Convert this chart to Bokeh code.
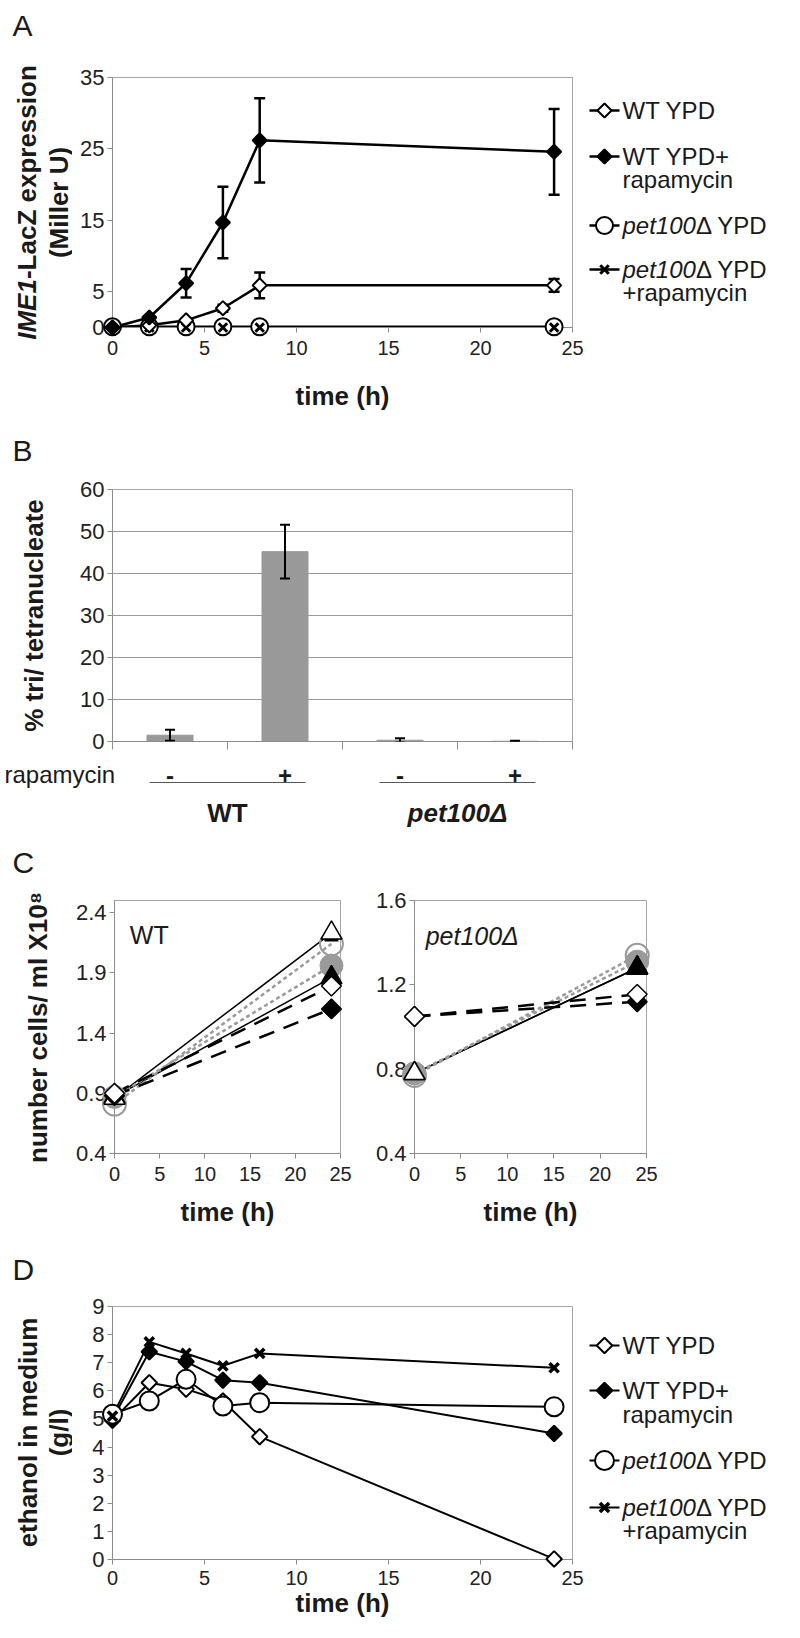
import numpy as np
from bokeh.plotting import figure
from bokeh.models import Range1d, FixedTicker, Whisker, TeeHead, ColumnDataSource
from bokeh.layouts import row, column
from bokeh.core.properties import value
from bokeh.embed import file_html
from bokeh.resources import INLINE

FONT = "Liberation Sans"
INK = "#1a1a1a"
AXIS_GRAY = "#8c8c8c"
FRAME_GRAY = "#a6a6a6"

# ---------------- data ----------------
# Panel A : IME1-LacZ expression (Miller U)
a_time = [0, 2, 4, 6, 8, 24]
a_wt_ypd = [0.0, 0.3, 1.0, 2.7, 5.9, 5.9]
a_wt_ypd_err = [0.0, 0.0, 0.3, 0.5, 1.8, 0.9]
a_wt_rap = [0.0, 1.4, 6.2, 14.7, 26.2, 24.6]
a_wt_rap_err = [0.0, 0.0, 2.0, 5.0, 5.9, 6.0]
a_pet_ypd = [0.1, 0.1, 0.1, 0.1, 0.1, 0.1]
a_pet_rap = [0.0, 0.0, 0.0, 0.0, 0.0, 0.0]
a_xticks = [0, 5, 10, 15, 20, 25]
a_yticks = [0, 5, 15, 25, 35]

# Panel B : % tri/ tetranucleate
b_rapamycin = ["-", "+", "-", "+"]
b_strains = ["WT", "pet100Δ"]
b_values = [1.5, 45.2, 0.3, 0.05]
b_err = [1.3, 6.4, 0.5, 0.1]
b_yticks = [0, 10, 20, 30, 40, 50, 60]

# Panel C : number cells / ml x10^8
c_time = [0, 24]
c_wt_open_tri = [0.86, 2.23]
c_wt_fill_tri = [0.87, 1.86]
c_wt_dash = [2.17]
c_wt_open_circ = [0.81, 2.14]
c_wt_fill_circ = [0.87, 1.96]
c_wt_open_dia = [0.90, 1.79]
c_wt_fill_dia = [0.88, 1.60]
c_pet_open_tri = [0.78, 1.28]
c_pet_fill_tri = [0.78, 1.28]
c_pet_open_circ = [0.77, 1.34]
c_pet_fill_circ = [0.78, 1.31]
c_pet_open_dia = [1.05, 1.155]
c_pet_fill_dia = [1.05, 1.12]
c_xticks = [0, 5, 10, 15, 20, 25]
c_wt_yticks = [0.4, 0.9, 1.4, 1.9, 2.4]
c_pet_yticks = [0.4, 0.8, 1.2, 1.6]

# Panel D : ethanol in medium (g/l)
d_time = [0, 2, 4, 6, 8, 24]
d_wt_ypd = [4.95, 6.29, 6.06, 5.64, 4.37, 0.02]
d_wt_rap = [5.0, 7.39, 7.04, 6.38, 6.29, 4.48]
d_pet_ypd = [5.17, 5.64, 6.41, 5.46, 5.58, 5.43]
d_pet_rap = [5.1, 7.74, 7.33, 6.89, 7.33, 6.82]
d_xticks = [0, 5, 10, 15, 20, 25]
d_yticks = [0, 1, 2, 3, 4, 5, 6, 7, 8, 9]

x_title = "time (h)"
legend_labels = [
    [[("WT YPD", "normal")]],
    [[("WT YPD+", "normal")], [("rapamycin", "normal")]],
    [[("pet100", "italic"), ("\u0394 YPD", "normal")]],
    [[("pet100", "italic"), ("\u0394 YPD", "normal")], [("+rapamycin", "normal")]],
]

# ---------------- helpers ----------------
REG_W = {'p': .556, 'e': .556, 't': .278, '1': .556, '0': .556}
BOLD_W = {'I': .278, 'M': .833, 'E': .667, '1': .556, '-': .333, 'L': .611, 'a': .556,
          'c': .556, 'Z': .611, ' ': .278, 'x': .556, 'p': .611, 'r': .389, 's': .556,
          'i': .278, 'o': .611, 'n': .611, 'e': .556}


def tw(s, table, size):
    return sum(table.get(c, 0.556) for c in s) * size


def data_fig(w, h, l, r, t, b, xr, yr, xticks, yticks, xlabel=None, xlabel_standoff=0, xtick_standoff=8):
    p = figure(width=w, height=h, x_range=Range1d(*xr), y_range=Range1d(*yr),
               toolbar_location=None, output_backend="svg",
               min_border_left=l, min_border_right=r, min_border_top=t, min_border_bottom=b)
    p.grid.visible = False
    p.outline_line_color = FRAME_GRAY
    p.outline_line_width = 1
    p.background_fill_color = "white"
    p.border_fill_color = "white"
    p.xaxis.ticker = FixedTicker(ticks=xticks)
    p.yaxis.ticker = FixedTicker(ticks=yticks)
    for ax in p.axis:
        ax.axis_line_color = AXIS_GRAY
        ax.major_tick_line_color = AXIS_GRAY
        ax.minor_tick_line_color = None
        ax.major_tick_out = 5
        ax.major_tick_in = 0
        ax.major_label_text_font = FONT
        ax.major_label_text_color = "#222222"
    p.yaxis.major_label_text_font_size = "22px"
    p.yaxis.major_label_standoff = 3
    p.xaxis.major_label_text_font_size = "20px"
    p.xaxis.major_label_standoff = xtick_standoff
    if xlabel:
        p.xaxis.axis_label = xlabel
        p.xaxis.axis_label_text_font = FONT
        p.xaxis.axis_label_text_font_size = "26px"
        p.xaxis.axis_label_text_font_style = "bold"
        p.xaxis.axis_label_text_color = INK
        p.xaxis.axis_label_standoff = xlabel_standoff
    return p


def decor(w, h, top=0, bottom=0):
    # plain canvas; when it sits next to a data figure its frame is given the same
    # top/bottom borders, and the y range is chosen so that y = height - pixels from top
    p = figure(width=w, height=h, x_range=Range1d(0, w), y_range=Range1d(bottom, h - top),
               x_axis_type=None, y_axis_type=None, toolbar_location=None,
               output_backend="svg", min_border=0,
               min_border_top=top, min_border_bottom=bottom, min_border_left=0, min_border_right=0)
    p.outline_line_color = None
    p.background_fill_color = "white"
    p.border_fill_color = "white"
    return p


def Y(p, y):
    return p.height - y


def txt(p, x, y, s, size, style="normal", align="left", baseline="alphabetic", angle=0.0, color=INK):
    p.text(x=[x], y=[Y(p, y)], text=[s], text_font=value(FONT), text_font_size=f"{size}px",
           text_font_style=style, text_align=align, text_baseline=baseline, angle=angle,
           text_color=color)


def marker(p, x, y, kind, size, fill, lw, color="black", level="overlay"):
    kw = dict(size=size, line_color=color, line_width=lw, level=level, fill_color=fill)
    if kind == "diamond":
        kw.update(marker="square", angle=np.pi / 4)
    else:
        kw.update(marker=kind)
    p.scatter(x=x, y=y, **kw)


def legend_box(p, ys, styles, line_w):
    for (y_first, y_second), lab, st in zip(ys, legend_labels, styles):
        yy0 = Y(p, y_first)
        p.segment(x0=[1], y0=[yy0], x1=[31], y1=[yy0], line_color="black", line_width=line_w)
        marker(p, [16], [yy0], st[0], st[1], st[2], st[3], level="glyph")
        for li, parts in enumerate(lab):
            yy = y_first if li == 0 else y_second
            xx = 34
            for s, fs in parts:
                txt(p, xx, yy, s, 24, style=fs, baseline="middle")
                xx += tw(s, REG_W, 24)


PAGE_W = 784
LEFT_W, LEG_W = 72, 196
L_BORDER, R_BORDER = 40, 16
FRAME_W = 460
MAIN_W = L_BORDER + FRAME_W + R_BORDER
REST_W = PAGE_W - LEFT_W
GRAY = "#9a9a9a"

# ================= Panel A =================
A_TOP, A_BLOCK = 62, 355
A_BT, A_BB = 15, 90
leftA = decor(LEFT_W, A_TOP + A_BLOCK)
txt(leftA, 12, 25, "A", 30)
fsA = 26
cyA = 202
w_full = tw("IME1-LacZ expression", BOLD_W, fsA)
y_start = cyA + w_full / 2
txt(leftA, 26, y_start, "IME1", fsA, style="bold italic", angle=np.pi / 2)
txt(leftA, 26, y_start - tw("IME1", BOLD_W, fsA), "-LacZ expression", fsA, style="bold", angle=np.pi / 2)
txt(leftA, 58, cyA, "(Miller U)", fsA, style="bold", align="center", angle=np.pi / 2)

mainA = data_fig(MAIN_W, A_BLOCK, L_BORDER, R_BORDER, A_BT, A_BB, (0, 25), (0, 35), a_xticks, a_yticks,
                 xlabel=x_title, xlabel_standoff=23)
for vals, err in ((a_wt_ypd, a_wt_ypd_err), (a_wt_rap, a_wt_rap_err)):
    sel = [i for i, e in enumerate(err) if e > 0]
    src = ColumnDataSource(dict(x=[a_time[i] for i in sel],
                                lo=[vals[i] - err[i] for i in sel],
                                hi=[vals[i] + err[i] for i in sel]))
    mainA.add_layout(Whisker(base="x", upper="hi", lower="lo", source=src, line_color="black",
                             line_width=2.5,
                             upper_head=TeeHead(size=11, line_width=2.5, line_color="black"),
                             lower_head=TeeHead(size=11, line_width=2.5, line_color="black")))
a_styles = [("diamond", 10, "white", 2), ("diamond", 10, "black", 2),
            ("circle", 17, "white", 2), ("x", 12, None, 3)]
a_series = [a_wt_ypd, a_wt_rap, a_pet_ypd, a_pet_rap]
for vals in a_series:
    mainA.line(a_time, vals, line_color="black", line_width=2.5)
for k in (2, 3, 0, 1):
    marker(mainA, a_time, a_series[k], *a_styles[k])

legA = decor(LEG_W, A_BLOCK, A_BT, A_BB)
legend_box(legA, [(48, 0), (94, 117), (163, 0), (207, 230)], a_styles, 2.5)
topA = decor(REST_W, A_TOP)

panelA = row(leftA, column(topA, row(mainA, legA, spacing=0), spacing=0), spacing=0)

# ================= Panel B =================
B_TOP, B_MID, B_BOT = 57, 281, 73
B_BT, B_BB = 15, 14
topB = decor(PAGE_W, B_TOP)
txt(topB, 12, 33, "B", 30)

b_x = [i + 0.5 for i in range(len(b_values))]
mainB = data_fig(MAIN_W, B_MID, L_BORDER, R_BORDER, B_BT, B_BB, (0, len(b_values)), (0, 60),
                 list(range(len(b_values) + 1)), b_yticks)
mainB.ygrid.visible = True
mainB.ygrid.ticker = FixedTicker(ticks=b_yticks)
mainB.ygrid.grid_line_color = "#9a9a9a"
mainB.ygrid.grid_line_width = 1
mainB.xaxis.major_tick_out = 8
mainB.xaxis.major_label_overrides = {i: "" for i in range(len(b_values) + 1)}
mainB.xaxis.major_label_text_font_size = "1px"
mainB.xaxis.major_label_standoff = 0
mainB.vbar(x=b_x, top=b_values, width=0.4, fill_color="#999999", line_color="#999999")
srcB = ColumnDataSource(dict(x=b_x, lo=[v - e for v, e in zip(b_values, b_err)],
                             hi=[v + e for v, e in zip(b_values, b_err)]))
mainB.add_layout(Whisker(base="x", upper="hi", lower="lo", source=srcB, line_color="black",
                         line_width=2, level="overlay",
                         upper_head=TeeHead(size=10, line_width=2, line_color="black"),
                         lower_head=TeeHead(size=10, line_width=2, line_color="black")))

leftB = decor(LEFT_W, B_MID, B_BT, B_BB)
txt(leftB, 33, 141, "% tri/ tetranucleate", 26, style="bold", align="center", angle=np.pi / 2)
rightB = decor(LEG_W, B_MID, B_BT, B_BB)

botB = decor(PAGE_W, B_BOT)
x0_frame = LEFT_W + L_BORDER
step = FRAME_W / len(b_values)
txt(botB, 4, 19, "rapamycin", 24)
for i, s in enumerate(b_rapamycin):
    txt(botB, x0_frame + (i + 0.5) * step, 20, s, 24, style="bold", align="center")
for k, strain in enumerate(b_strains):
    xl = x0_frame + 2 * k * step + 37
    xr = x0_frame + (2 * k + 2) * step - 37
    botB.segment(x0=[xl], y0=[Y(botB, 27)], x1=[xr], y1=[Y(botB, 27)], line_color="#555555", line_width=1)
    txt(botB, (xl + xr) / 2, 57, strain, 26, style="bold" if k == 0 else "bold italic", align="center")

panelB = column(topB, row(leftB, mainB, rightB, spacing=0), botB, spacing=0)

# ================= Panel C =================
C_TOP, C_BLOCK = 57, 346
C_BT, C_BB = 15, 78


def draw_c(p, tri_o, tri_f, circ_o, circ_f, dia_o, dia_f, filled_tri_on_top_at_end, dash=None):
    p.line(c_time, tri_o, line_color="black", line_width=1.5)
    p.line(c_time, tri_f, line_color="black", line_width=1.5)
    p.line(c_time, circ_o, line_color=GRAY, line_width=2.5, line_dash="4 3")
    p.line(c_time, circ_f, line_color=GRAY, line_width=2.5, line_dash="4 3")
    p.line(c_time, dia_o, line_color="black", line_width=2.5, line_dash="16 10")
    p.line(c_time, dia_f, line_color="black", line_width=2.5, line_dash="16 10")
    marker(p, c_time, circ_f, "circle", 23, GRAY, 1, color=GRAY)
    marker(p, c_time, circ_o, "circle", 23, None, 2, color=GRAY)
    marker(p, c_time, tri_f, "triangle", 21, "black", 1.5)
    marker(p, c_time, tri_o, "triangle", 21, "white", 1.5)
    if filled_tri_on_top_at_end:
        marker(p, c_time[-1:], tri_f[-1:], "triangle", 21, "black", 1.5)
    if dash is not None:
        marker(p, c_time[-1:], dash, "dash", 14, None, 2.5)
    marker(p, c_time, dia_f, "diamond", 14, "black", 1.5)
    marker(p, c_time, dia_o, "diamond", 14, "white", 1.5)


C1_W = 40 + 228 + 14
c1 = data_fig(C1_W, C_BLOCK, 40, 14, C_BT, C_BB, (0, 25), (0.4, 2.5), c_xticks, c_wt_yticks,
              xlabel=x_title, xlabel_standoff=13)
draw_c(c1, c_wt_open_tri, c_wt_fill_tri, c_wt_open_circ, c_wt_fill_circ, c_wt_open_dia,
       c_wt_fill_dia, False, c_wt_dash)
c1.text(x=[1.7], y=[2.21], text=["WT"], text_font=value(FONT), text_font_size="25px",
        text_color=INK, text_baseline="alphabetic")

C2_W = 60 + 232 + 14
c2 = data_fig(C2_W, C_BLOCK, 60, 14, C_BT, C_BB, (0, 25), (0.4, 1.6), c_xticks, c_pet_yticks,
              xlabel=x_title, xlabel_standoff=13)
draw_c(c2, c_pet_open_tri, c_pet_fill_tri, c_pet_open_circ, c_pet_fill_circ, c_pet_open_dia,
       c_pet_fill_dia, True)
c2.text(x=[1.2], y=[1.43], text=["pet100\u0394"], text_font=value(FONT), text_font_size="25px",
        text_font_style="italic", text_color=INK, text_baseline="alphabetic")

leftC = decor(LEFT_W, C_TOP + C_BLOCK)
txt(leftC, 12, 34, "C", 30)
txt(leftC, 37, 199, "number cells/ ml X10\u2078", 26, style="bold", align="center", angle=np.pi / 2)
rightC = decor(REST_W - C1_W - C2_W, C_BLOCK, C_BT, C_BB)
topC = decor(REST_W, C_TOP)

panelC = row(leftC, column(topC, row(c1, c2, rightC, spacing=0), spacing=0), spacing=0)

# ================= Panel D =================
D_TOP, D_BLOCK = 60, 331
D_BT, D_BB = 15, 63
mainD = data_fig(MAIN_W, D_BLOCK, L_BORDER, R_BORDER, D_BT, D_BB, (0, 25), (0, 9), d_xticks, d_yticks,
                 xlabel=x_title, xlabel_standoff=0, xtick_standoff=6)
d_styles = [("diamond", 11, "white", 2), ("diamond", 11, "black", 2),
            ("circle", 19, "white", 2), ("x", 13, None, 3.5)]
d_series = [d_wt_ypd, d_wt_rap, d_pet_ypd, d_pet_rap]
for vals in d_series:
    mainD.line(d_time, vals, line_color="black", line_width=2)
for vals, st in zip(d_series, d_styles):
    marker(mainD, d_time, vals, *st)

leftD = decor(LEFT_W, D_TOP + D_BLOCK)
txt(leftD, 12, 38, "D", 30)
txt(leftD, 27, 201, "ethanol in medium", 26, style="bold", align="center", angle=np.pi / 2)
txt(leftD, 58, 201, "(g/l)", 26, style="bold", align="center", angle=np.pi / 2)

legD = decor(LEG_W, D_BLOCK, D_BT, D_BB)
legend_box(legD, [(54, 0), (99, 123), (169, 0), (216, 239)], d_styles, 2)
topD = decor(REST_W, D_TOP)

panelD = row(leftD, column(topD, row(mainD, legD, spacing=0), spacing=0), spacing=0)

page = column(panelA, panelB, panelC, panelD, spacing=0)

with open("out.html", "w") as f:
    f.write(file_html(page, INLINE))
